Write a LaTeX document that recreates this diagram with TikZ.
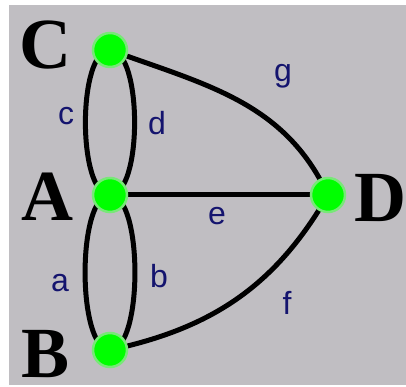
\documentclass[tikz,border=0pt]{standalone}
\usepackage{fontspec}
\setmainfont{Liberation Serif}
\newfontfamily\lsans{Liberation Sans}
\definecolor{bggray}{RGB}{192,190,194}
\definecolor{nodegreen}{RGB}{0,255,0}
\definecolor{halogreen}{RGB}{120,232,120}
\definecolor{labelblue}{RGB}{20,20,110}
\pgfdeclarelayer{bglayer}
\pgfdeclarelayer{edgelayer}
\pgfsetlayers{bglayer,edgelayer,main}
\tikzset{
  vertex/.style={circle, fill=nodegreen, draw=halogreen, line width=2.5pt, minimum size=34pt, inner sep=0pt},
  bigletter/.style={font=\fontsize{72}{72}\selectfont\bfseries, inner sep=0pt},
  edgelabel/.style={font=\fontsize{32}{32}\selectfont\lsans, text=labelblue, anchor=base, inner sep=0pt},
  edge/.style={line width=5pt, black}
}
\begin{document}
\begin{tikzpicture}[x=1pt,y=1pt]
\begin{pgfonlayer}{bglayer}
\fill[white] (0,0) rectangle (406,387);
\fill[bggray] (9,2) rectangle (406,382);
\end{pgfonlayer}
\useasboundingbox (0,0) rectangle (406,387);
% vertices
\node[vertex] (C) at (110,337) {};
\node[vertex] (A) at (110,192) {};
\node[vertex] (B) at (110,37) {};
\node[vertex] (D) at (328,192) {};
% vertex letters
\node[bigletter] (lC) at (45,342) {C};
\node[bigletter] (lA) at (47,190) {A};
\node[bigletter] (lB) at (46,33) {B};
\node[bigletter] (lD) at (380,189) {D};
% edges (under the vertices)
\begin{pgfonlayer}{edgelayer}
\draw[edge] (C.center) to[out=180,in=180,looseness=0.58] (A.center);
\draw[edge] (C.center) to[out=0,in=0,looseness=0.58] (A.center);
\draw[edge] (A.center) to[out=180,in=180,looseness=0.55] (B.center);
\draw[edge] (A.center) to[out=0,in=0,looseness=0.55] (B.center);
\draw[edge] (A.center) -- (D.center);
\draw[edge] (C.center) to[out=-20,in=115] (D.center);
\draw[edge] (B.center) to[out=12,in=-120] (D.center);
\end{pgfonlayer}
% edge labels
\node[edgelabel] (ec) at (66,262) {c};
\node[edgelabel] (ed) at (157,252) {d};
\node[edgelabel] (eg) at (283,305) {g};
\node[edgelabel] (ee) at (217,162) {e};
\node[edgelabel] (ea) at (60,95) {a};
\node[edgelabel] (eb) at (159,99) {b};
\node[edgelabel] (ef) at (287,72) {f};
\end{tikzpicture}
\end{document}
